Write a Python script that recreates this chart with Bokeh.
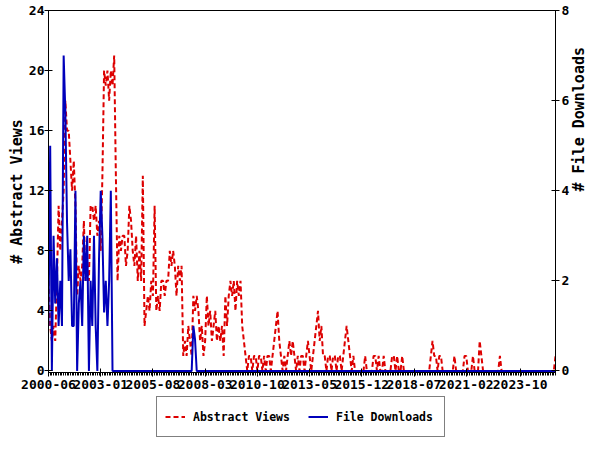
import math
from bokeh.plotting import figure
from bokeh.layouts import column
from bokeh.models import Range1d, LinearAxis, FixedTicker, Legend, LegendItem
from bokeh.embed import file_html
from bokeh.resources import INLINE

# Monthly data, 2000-06 .. 2025-07 (302 months)
abstract_views = [
    6, 3, 2, 3, 2, 6, 11, 8, 10, 12,
    18, 16, 16, 14, 12, 14, 11, 5, 7, 6,
    7, 10, 6, 7, 6, 11, 11, 10, 11, 9,
    10, 8, 13, 20, 19, 20, 18, 20, 19, 21,
    13, 6, 9, 8, 9, 9, 7, 8, 11, 10,
    8, 7, 9, 6, 8, 6, 13, 3, 4, 5,
    4, 6, 5, 11, 4, 5, 4, 6, 6, 5,
    6, 6, 8, 7, 8, 7, 5, 7, 6, 7,
    1, 2, 1, 3, 2, 1, 5, 4, 5, 4,
    2, 3, 1, 2, 5, 3, 4, 2, 3, 4,
    2, 3, 2, 3, 1, 5, 3, 5, 6, 5,
    6, 4, 6, 5, 6, 3, 2, 1, 0, 1,
    1, 0, 1, 1, 0, 1, 1, 0, 1, 0,
    1, 1, 0, 1, 2, 3, 4, 2, 1, 0,
    1, 0, 1, 2, 1, 2, 1, 0, 1, 0,
    1, 1, 0, 1, 2, 1, 0, 1, 2, 3,
    4, 2, 3, 1, 1, 0, 1, 1, 0, 1,
    1, 0, 1, 1, 0, 1, 2, 3, 2, 1,
    0, 1, 0, 0, 0, 0, 0, 0, 1, 0,
    0, 0, 0, 1, 1, 0, 1, 0, 0, 1,
    0, 0, 0, 0, 1, 1, 0, 1, 0, 0,
    1, 0, 0, 0, 0, 0, 0, 0, 0, 0,
    0, 0, 0, 0, 0, 0, 0, 1, 2, 1,
    1, 0, 1, 1, 0, 0, 0, 0, 0, 0,
    0, 1, 0, 0, 0, 0, 0, 1, 1, 0,
    0, 0, 1, 0, 0, 0, 2, 1, 0, 0,
    0, 0, 0, 0, 0, 0, 0, 0, 1, 0,
    0, 0, 0, 0, 0, 0, 0, 0, 0, 0,
    0, 0, 0, 0, 0, 0, 0, 0, 0, 0,
    0, 0, 0, 0, 0, 0, 0, 0, 0, 0,
    0, 1,
]

file_downloads = [
    1, 5, 0, 3, 1.5, 2.5, 1, 2, 1, 7,
    5.75, 3.3, 2, 2.7, 1, 1, 4, 0, 1.5, 2,
    1, 3, 2, 3, 0, 2, 1, 3, 1, 0,
    2.5, 4, 3, 1.3, 2, 1, 2, 4, 0, 0,
    0, 0, 0, 0, 0, 0, 0, 0, 0, 0,
    0, 0, 0, 0, 0, 0, 0, 0, 0, 0,
    0, 0, 0, 0, 0, 0, 0, 0, 0, 0,
    0, 0, 0, 0, 0, 0, 0, 0, 0, 0,
    0, 0, 0, 0, 0, 0, 1, 0.7, 0, 0,
    0, 0, 0, 0, 0, 0, 0, 0, 0, 0,
    0, 0, 0, 0, 0, 0, 0, 0, 0, 0,
    0, 0, 0, 0, 0, 0, 0, 0, 0, 0,
    0, 0, 0, 0, 0, 0, 0, 0, 0, 0,
    0, 0, 0, 0, 0, 0, 0, 0, 0, 0,
    0, 0, 0, 0, 0, 0, 0, 0, 0, 0,
    0, 0, 0, 0, 0, 0, 0, 0, 0, 0,
    0, 0, 0, 0, 0, 0, 0, 0, 0, 0,
    0, 0, 0, 0, 0, 0, 0, 0, 0, 0,
    0, 0, 0, 0, 0, 0, 0, 0, 0, 0,
    0, 0, 0, 0, 0, 0, 0, 0, 0, 0,
    0, 0, 0, 0, 0, 0, 0, 0, 0, 0,
    0, 0, 0, 0, 0, 0, 0, 0, 0, 0,
    0, 0, 0, 0, 0, 0, 0, 0, 0, 0,
    0, 0, 0, 0, 0, 0, 0, 0, 0, 0,
    0, 0, 0, 0, 0, 0, 0, 0, 0, 0,
    0, 0, 0, 0, 0, 0, 0, 0, 0, 0,
    0, 0, 0, 0, 0, 0, 0, 0, 0, 0,
    0, 0, 0, 0, 0, 0, 0, 0, 0, 0,
    0, 0, 0, 0, 0, 0, 0, 0, 0, 0,
    0, 0, 0, 0, 0, 0, 0, 0, 0, 0,
    0, 0,
]

month_index = list(range(len(abstract_views)))

x_tick_positions = [0, 31, 62, 93, 124, 155, 186, 217, 248, 280]
x_tick_labels = ["2000-06", "2003-01", "2005-08", "2008-03", "2010-10",
                 "2013-05", "2015-12", "2018-07", "2021-02", "2023-10"]
left_ticks = [0, 4, 8, 12, 16, 20, 24]
right_ticks = [0, 2, 4, 6, 8]

FONT = "DejaVu Sans Mono"
RED = "#dd0000"
BLUE = "#0000bb"
VIEW_DASH = "5 3"

p = figure(width=600, height=396,
           x_range=Range1d(0, len(abstract_views) - 1),
           y_range=Range1d(-0.1, 24),
           output_backend="svg", toolbar_location=None,
           min_border_left=48, min_border_right=43,
           min_border_top=10, min_border_bottom=24)
p.extra_y_ranges = {"dl": Range1d(-0.1 / 3, 8)}

p.grid.visible = False
p.outline_line_color = "black"
p.outline_line_width = 1
p.background_fill_color = "white"
p.border_fill_color = "white"

p.line(month_index, abstract_views, line_color=RED, line_width=2,
       line_dash=VIEW_DASH)
p.line(month_index, file_downloads, line_color=BLUE, line_width=2,
       y_range_name="dl")

# X axis
xa = p.xaxis[0]
xa.ticker = FixedTicker(ticks=x_tick_positions, minor_ticks=month_index)
xa.major_label_overrides = {t: l for t, l in zip(x_tick_positions, x_tick_labels)}
xa.major_tick_in = 4
xa.major_tick_out = 4
xa.minor_tick_in = 0
xa.minor_tick_out = 3
xa.major_label_standoff = 3

# Left axis
ya = p.yaxis[0]
ya.ticker = FixedTicker(ticks=left_ticks)
ya.axis_label = "# Abstract Views"
ya.major_tick_in = 4
ya.major_tick_out = 4
ya.major_label_standoff = 0
ya.axis_label_standoff = 0

# Right axis
ra = LinearAxis(y_range_name="dl", ticker=FixedTicker(ticks=right_ticks),
                axis_label="# File Downloads")
ra.major_tick_in = 4
ra.major_tick_out = 4
ra.major_label_standoff = 2
ra.axis_label_standoff = 7
ra.axis_label_orientation = math.pi / 2
p.add_layout(ra, "right")

for ax in (xa, ya, ra):
    ax.axis_line_color = "black"
    ax.major_tick_line_color = "black"
    ax.minor_tick_line_color = "black" if ax is xa else None
    ax.major_label_text_font = FONT
    ax.major_label_text_font_style = "bold"
    ax.major_label_text_font_size = "13px"
    ax.major_label_text_color = "black"
    ax.axis_label_text_font = FONT
    ax.axis_label_text_font_style = "bold"
    ax.axis_label_text_font_size = "15px"
    ax.axis_label_text_color = "black"

# Legend strip below the chart (its lines lie outside its own view)
lg = figure(width=600, height=54, x_range=Range1d(-20, -10), y_range=Range1d(-20, -10),
            output_backend="svg", toolbar_location=None, min_border=0)
lg.axis.visible = False
lg.grid.visible = False
lg.outline_line_color = None
r_views = lg.line(month_index, abstract_views, line_color=RED, line_width=2,
                  line_dash=VIEW_DASH)
r_dl = lg.line(month_index, file_downloads, line_color=BLUE, line_width=2)

legend = Legend(items=[LegendItem(label="Abstract Views", renderers=[r_views]),
                       LegendItem(label="File Downloads", renderers=[r_dl])],
                orientation="horizontal", location=(108, 13),
                border_line_color="black", border_line_width=1,
                background_fill_color="white", background_fill_alpha=1,
                padding=8, spacing=15, margin=0,
                glyph_width=20, glyph_height=23, label_height=23,
                label_width=100, label_standoff=8,
                label_text_font=FONT, label_text_font_style="bold",
                label_text_font_size="11.5px", label_text_color="black")
lg.add_layout(legend)

open("out.html", "w").write(file_html(column(p, lg), INLINE))
